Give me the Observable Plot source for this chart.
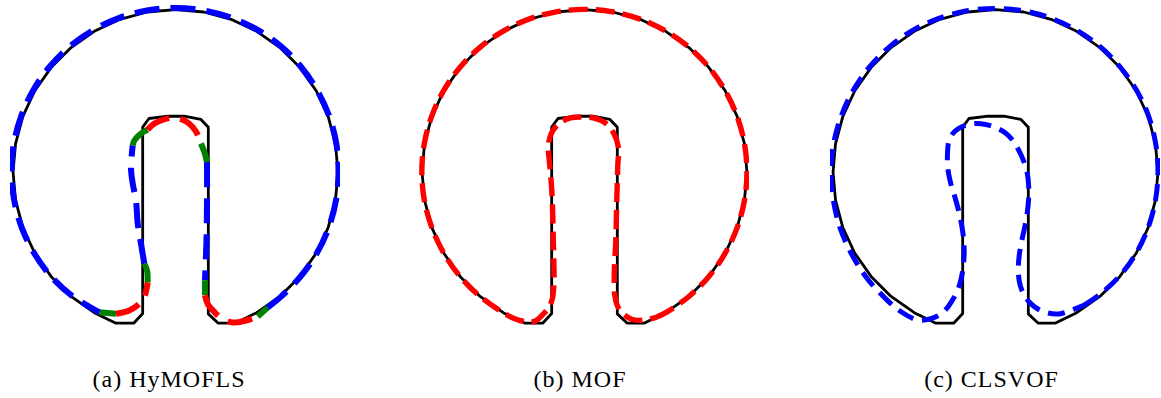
<!DOCTYPE html>
<html><head><meta charset="utf-8">
<script src="https://cdn.jsdelivr.net/npm/d3@7"></script>
<script src="https://cdn.jsdelivr.net/npm/@observablehq/plot@0.6"></script>
<style>
body{margin:0;background:#fff;width:1161px;height:398px;overflow:hidden;position:relative}
.panel{position:absolute;top:0}
.cap{position:absolute;top:367px;width:300px;text-align:center;font-family:"Liberation Serif","Times New Roman","DejaVu Serif",serif;font-size:24px;line-height:24px;letter-spacing:1px;color:#000;white-space:nowrap}
</style>
</head><body>
<script>
// ---- Exact slotted disk (data units) ----
const CX = 50, CY = 75, R = 15;
const exactArcAngles = [-68.5,-60,-50,-40,-30,-20,-10,0,10,20,30,40,50,60,70,80,90,100,110,120,130,140,150,160,170,180,190,200,210,220,230,240,248.5];
const exactSlot = [[44.51,61.04],[46.14,61.04],[46.97,61.93],[46.97,79.14],[47.55,79.94],[49.30,80.15],[50.78,80.15],[52.35,79.85],[53.03,79.14],[53.03,61.90],[53.95,61.04],[55.49,61.04]];

// ---- (a) HyMOFLS computed interface ----
const aOuter = [[-55.8,15.13],[-50,15.08],[-40,15.05],[-30,15.05],[-20,15.05],[-10,15.05],[0,15.05],[10,15.08],[20,15.1],[30,15.1],[40,15.12],[50,15.15],[60,15.15],[70,15.15],[80,15.15],[90,15.15],[100,15.15],[110,15.15],[120,15.15],[130,15.15],[140,15.15],[150,15.15],[160,15.15],[170,15.15],[180,15.15],[190,15.12],[200,15.1],[210,15.05],[220,15.0],[230,14.9],[241.5,14.74]];
const aSegColors = ["green","red","green","blue","green","red","green","blue","green","red","green"];
const aSegs = [
  [[42.96,62.05],[44.51,61.91]],
  [[44.51,61.91],[45.73,62.21],[46.66,62.83],[47.12,63.44],[47.43,64.82]],
  [[47.43,64.82],[47.37,65.91],[47.12,66.55]],
  [[47.12,66.55],[46.81,68.40],[46.51,70.24],[46.35,72.37],[46.05,73.94],[45.89,75.32],[46.05,77.45]],
  [[46.05,77.45],[46.20,77.91],[46.81,78.55],[47.43,78.90]],
  [[47.43,78.90],[47.92,79.39],[48.66,79.76],[49.58,79.99],[50.51,79.89],[51.25,79.48],[51.89,78.74],[52.35,77.63]],
  [[52.35,77.63],[52.68,76.80],[52.91,75.90]],
  [[52.91,75.90],[52.91,72.37],[52.86,68.67],[52.72,65.01]],
  [[52.72,65.01],[52.72,63.62]],
  [[52.72,63.62],[53.00,62.77],[53.55,62.12],[54.10,61.59],[55.30,61.10],[56.51,61.29],[57.59,61.66]],
  [[57.59,61.66],[58.51,62.49]]
];

// ---- (b) MOF computed interface ----
const bOuter = [[-63.5,14.97],[-60,15.0],[-50,15.0],[-40,15.0],[-30,15.0],[-20,15.0],[-10,15.0],[0,15.0],[10,15.0],[20,15.0],[30,15.0],[40,15.02],[50,15.02],[60,15.02],[70,15.02],[80,15.02],[90,15.02],[100,15.02],[110,15.02],[120,15.02],[130,15.02],[140,15.02],[150,15.02],[160,15.02],[170,15.02],[180,15.02],[190,15.02],[200,15.0],[210,15.0],[220,15.0],[230,15.0],[240,15.0],[244.1,15.0]];
const bSlot = [[44.69,61.15],[45.46,61.24],[46.22,61.91],[46.75,62.58],[47.03,63.31],[47.17,64.51],[47.12,68.67],[46.98,73.29],[46.75,76.06],[46.66,77.45],[46.98,78.65],[47.77,79.57],[48.69,79.99],[49.61,80.08],[50.81,79.99],[51.92,79.52],[52.66,78.65],[53.12,77.35],[53.07,75.51],[52.98,72.37],[52.89,68.67],[52.75,65.62],[52.80,63.59],[53.03,62.67],[53.58,61.89],[54.41,61.38],[55.52,61.33]];

// ---- (c) CLSVOF computed interface ----
const cOuter = [[-56.3,14.77],[-50,14.85],[-40,14.95],[-30,15.0],[-20,15.0],[-10,15.0],[0,15.0],[10,15.02],[20,15.05],[30,15.05],[40,15.05],[50,15.08],[60,15.08],[70,15.1],[80,15.1],[90,15.1],[100,15.12],[110,15.12],[120,15.15],[130,15.15],[140,15.15],[150,15.15],[160,15.15],[170,15.18],[180,15.2],[190,15.2],[200,15.25],[210,15.3],[220,15.4],[230,15.5],[235.8,15.57]];
const cSlot = [[42.80,61.33],[43.72,61.38],[44.64,61.70],[45.41,62.30],[46.06,63.23],[46.57,64.24],[46.93,65.63],[47.10,67.29],[47.07,68.67],[46.93,69.78],[46.66,71.17],[46.29,72.55],[45.87,73.94],[45.60,75.32],[45.57,76.80],[45.69,77.82],[46.06,78.55],[46.61,79.02],[47.35,79.34],[48.18,79.48],[49.10,79.39],[50.03,79.11],[50.86,78.65],[51.60,77.91],[52.15,76.99],[52.61,75.97],[52.94,74.86],[53.07,73.57],[53.05,72.37],[52.92,71.17],[52.71,69.97],[52.43,68.67],[52.20,67.38],[52.11,66.18],[52.20,64.89],[52.52,63.87],[53.07,63.04],[53.91,62.35],[54.83,61.98],[55.84,61.89],[56.95,62.21]];

const captions = ["(a) HyMOFLS", "(b) MOF", "(c) CLSVOF"];

// ---- helpers ----
const rad = Math.PI / 180;
const pol = ([a, r]) => ({x: CX + r * Math.cos(a * rad), y: CY + r * Math.sin(a * rad)});
const pt = ([x, y]) => ({x, y});

const exact = [
  ...exactArcAngles.map(a => pol([a, R])),
  ...exactSlot.map(pt)
];

const aData = [];
aSegs.forEach((s, i) => s.forEach(p => aData.push({...pt(p), seg: i, color: aSegColors[i]})));
aOuter.forEach(p => aData.push({...pol(p), seg: 99, color: "blue"}));

const bPts = [...bOuter.map(pol), ...bSlot.map(pt), pol(bOuter[0])];
const bData = bPts.map(p => ({...p, seg: 0, color: "red"}));

const cPts = [...cOuter.map(pol), ...cSlot.map(pt), pol(cOuter[0])];
const cData = cPts.map(p => ({...p, seg: 0, color: "blue"}));

const K = 10.83; // px per unit
const W = 330, H = 340, PY = 171.5;
function panel(data, sw, dash) {
  return Plot.plot({
    width: W, height: H, margin: 0,
    x: {domain: [CX - (W / 2) / K, CX + (W / 2) / K], axis: null},
    y: {domain: [CY - (H - PY) / K, CY + PY / K], axis: null},
    color: {type: "identity"},
    marks: [
      Plot.line(exact, {x: "x", y: "y", stroke: "black", strokeWidth: 2.8, strokeLinejoin: "round"}),
      Plot.line(data, {x: "x", y: "y", z: "seg", stroke: "color", strokeWidth: sw,
        strokeDasharray: dash, strokeLinecap: "butt", curve: "catmull-rom"})
    ]
  });
}

const panels = [
  {data: aData, sw: 6, dash: "25,11", cx: 174.5, capx: 169},
  {data: bData, sw: 5.4, dash: "19,8", cx: 584.2, capx: 580},
  {data: cData, sw: 5, dash: "17,9", cx: 994.7, capx: 991.5}
];
panels.forEach((p, i) => {
  const div = document.createElement("div");
  div.className = "panel";
  div.style.left = (p.cx - W / 2) + "px";
  div.appendChild(panel(p.data, p.sw, p.dash));
  document.body.appendChild(div);
  const cap = document.createElement("div");
  cap.className = "cap";
  cap.style.left = (p.capx - 150) + "px";
  cap.textContent = captions[i];
  document.body.appendChild(cap);
});
</script>
</body></html>
